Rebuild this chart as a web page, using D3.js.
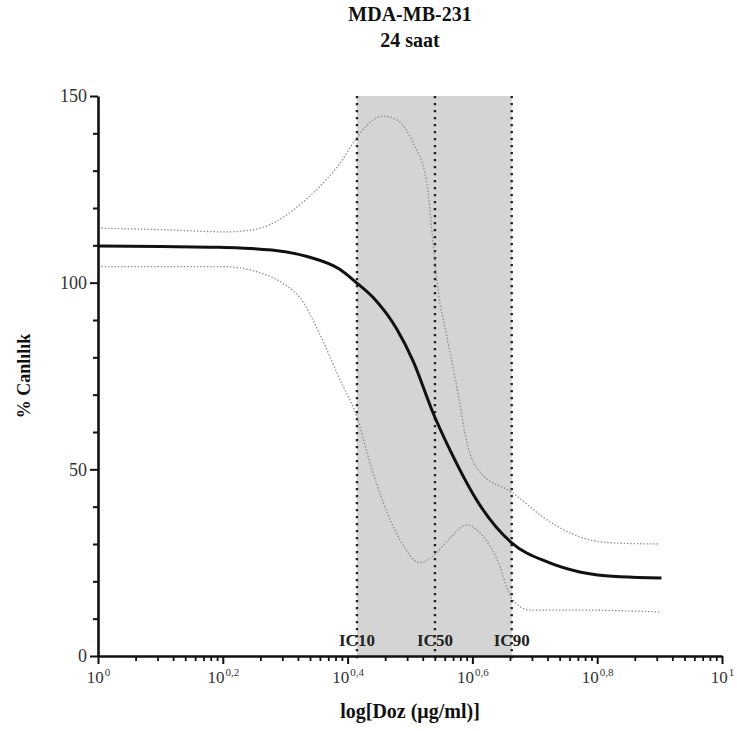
<!DOCTYPE html>
<html>
<head>
<meta charset="utf-8">
<script src="https://cdn.jsdelivr.net/npm/d3@7"></script>
<style>
  html, body { margin: 0; padding: 0; background: #fff; }
  svg { display: block; }
  text { font-family: "Liberation Serif", "Times New Roman", serif; }
</style>
</head>
<body>
<svg id="chart" width="737" height="731"></svg>
<script>
// ---------------- DATA ----------------
const titleLines = ["MDA-MB-231", "24 saat"];
const xAxisTitle = "log[Doz (\u03BCg/ml)]";
const yAxisTitle = "% Canlılık";

// major x ticks: exponents of 10
const xTickExponents = [0, 0.2, 0.4, 0.6, 0.8, 1];
const yTicks = [0, 50, 100, 150];
const yMinorTicks = [10, 20, 30, 40, 60, 70, 80, 90, 110, 120, 130, 140];

// IC markers: log10(dose)
const icLabels = ["IC10", "IC50", "IC90"];
const icLogDose = [0.415, 0.540, 0.663];

// fitted curve: log10(dose) and % viability
const fitLogDose = [0.00, 0.10, 0.18, 0.228, 0.30, 0.335, 0.388, 0.412, 0.441, 0.479, 0.505, 0.537, 0.564, 0.612, 0.663, 0.72, 0.772, 0.837, 0.903];
const fitValues  = [109.8, 109.7, 109.5, 109.3, 108.3, 107.0, 103.5, 100.3, 96.0, 87.5, 79.0, 65.1, 55.2, 40.4, 30.3, 25.2, 22.5, 21.2, 20.9];

// upper confidence band
const upperLogDose = [0.00, 0.10, 0.21, 0.23, 0.26, 0.29, 0.32, 0.355, 0.388, 0.412, 0.42, 0.441, 0.457, 0.479, 0.505, 0.527, 0.537, 0.545, 0.558, 0.574, 0.593, 0.612, 0.663, 0.72, 0.772, 0.825, 0.90];
const upperValues  = [114.6, 114.2, 113.6, 113.8, 114.6, 116.8, 120.4, 125.7, 132.0, 138.2, 140.0, 143.6, 144.6, 143.6, 137.4, 126.7, 110.6, 98.0, 86.5, 73.0, 56.0, 49.3, 43.9, 36.4, 31.9, 30.3, 30.0];

// lower confidence band
const lowerLogDose = [0.00, 0.20, 0.255, 0.30, 0.324, 0.356, 0.388, 0.415, 0.436, 0.457, 0.484, 0.516, 0.537, 0.564, 0.591, 0.607, 0.64, 0.663, 0.692, 0.77, 0.90];
const lowerValues  = [104.3, 104.3, 102.9, 99.4, 95.9, 86.0, 73.9, 64.1, 51.6, 41.2, 31.1, 25.0, 26.8, 31.6, 35.1, 33.8, 25.7, 15.5, 12.3, 12.3, 11.8];

// ---------------- CHART ----------------
const svg = d3.select("#chart");

const x = d3.scaleLog().domain([1, 10]).range([98, 722]);
const y = d3.scaleLinear().domain([0, 150]).range([656, 96]);
const toDose = e => Math.pow(10, e);

const FONT = '"Liberation Serif", "Times New Roman", serif';

// shaded IC10-IC90 region
svg.append("rect")
  .attr("x", x(toDose(icLogDose[0])))
  .attr("y", y(150))
  .attr("width", x(toDose(icLogDose[2])) - x(toDose(icLogDose[0])))
  .attr("height", y(0) - y(150))
  .attr("fill", "#d4d4d4");

// IC dotted vertical lines
svg.append("g").selectAll("line")
  .data(icLogDose)
  .join("line")
  .attr("x1", d => x(toDose(d)))
  .attr("x2", d => x(toDose(d)))
  .attr("y1", y(150))
  .attr("y2", y(0) + 7)
  .attr("stroke", "#222")
  .attr("stroke-width", 2.4)
  .attr("stroke-dasharray", "2.2,4.8");

// IC labels
svg.append("g").selectAll("text")
  .data(icLabels)
  .join("text")
  .attr("x", (d, i) => x(toDose(icLogDose[i])))
  .attr("y", 646)
  .attr("text-anchor", "middle")
  .attr("font-size", 17)
  .attr("font-weight", "bold")
  .attr("fill", "#222")
  .text(d => d);

// line generators
const mkLine = (xs) => d3.line()
  .x((d, i) => x(toDose(xs[i])))
  .y(d => y(d))
  .curve(d3.curveMonotoneX);

// confidence bands
svg.append("path")
  .datum(upperValues)
  .attr("d", mkLine(upperLogDose))
  .attr("fill", "none")
  .attr("stroke", "#8a8a8a")
  .attr("stroke-width", 1.3)
  .attr("stroke-dasharray", "1.4,1.9");

svg.append("path")
  .datum(lowerValues)
  .attr("d", mkLine(lowerLogDose))
  .attr("fill", "none")
  .attr("stroke", "#8a8a8a")
  .attr("stroke-width", 1.3)
  .attr("stroke-dasharray", "1.4,1.9");

// fitted curve
svg.append("path")
  .datum(fitValues)
  .attr("d", mkLine(fitLogDose))
  .attr("fill", "none")
  .attr("stroke", "#111")
  .attr("stroke-width", 3);

// ---------- Y axis ----------
const yAxisG = svg.append("g")
  .attr("transform", `translate(${x(1)},0)`)
  .call(d3.axisLeft(y).tickValues(yTicks).tickSize(8).tickSizeOuter(0).tickPadding(3));
yAxisG.select(".domain").attr("stroke", "#111").attr("stroke-width", 2.6);
yAxisG.selectAll(".tick line").attr("stroke", "#111").attr("stroke-width", 2);
yAxisG.selectAll(".tick text")
  .attr("font-family", FONT).attr("font-size", 18).attr("fill", "#333");

const yMinorG = svg.append("g")
  .attr("transform", `translate(${x(1)},0)`)
  .call(d3.axisLeft(y).tickValues(yMinorTicks).tickSize(5).tickFormat(""));
yMinorG.select(".domain").remove();
yMinorG.selectAll(".tick line").attr("stroke", "#111").attr("stroke-width", 2);

// ---------- X axis ----------
const xMajorVals = xTickExponents.map(toDose);
const xMinorVals = [];
for (let i = 0; i < xTickExponents.length - 1; i++) {
  const a = xTickExponents[i], b = xTickExponents[i + 1];
  for (let k = 2; k <= 9; k++) xMinorVals.push(toDose(a + (b - a) * Math.log10(k)));
}

const xAxisG = svg.append("g")
  .attr("transform", `translate(0,${y(0)})`)
  .call(d3.axisBottom(x).tickValues(xMajorVals).tickSize(8).tickSizeOuter(0).tickFormat(""));
xAxisG.select(".domain").attr("stroke", "#111").attr("stroke-width", 2.6);
xAxisG.selectAll(".tick line").attr("stroke", "#111").attr("stroke-width", 2);

const xMinorG = svg.append("g")
  .attr("transform", `translate(0,${y(0)})`)
  .call(d3.axisBottom(x).tickValues(xMinorVals).tickSize(5).tickFormat(""));
xMinorG.select(".domain").remove();
xMinorG.selectAll(".tick line").attr("stroke", "#111").attr("stroke-width", 1.8);

// superscript tick labels
xAxisG.selectAll(".tick").each(function (d, i) {
  const t = d3.select(this).select("text");
  t.attr("dy", null)
    .attr("y", 27)
    .attr("font-family", FONT)
    .attr("fill", "#333")
    .attr("text-anchor", "middle");
  t.text(null);
  t.append("tspan").attr("font-size", 17).text("10");
  t.append("tspan").attr("font-size", 11).attr("dy", -7).attr("dx", 1)
    .text(String(xTickExponents[i]).replace(".", ","));
});

// ---------- Titles ----------
svg.append("g").selectAll("text")
  .data(titleLines)
  .join("text")
  .attr("x", 410)
  .attr("y", (d, i) => 21 + i * 26)
  .attr("text-anchor", "middle")
  .attr("font-size", 20)
  .attr("font-weight", "bold")
  .attr("fill", "#111")
  .text(d => d);

svg.append("text")
  .attr("x", 410)
  .attr("y", 718)
  .attr("text-anchor", "middle")
  .attr("font-size", 20)
  .attr("font-weight", "bold")
  .attr("fill", "#111")
  .text(xAxisTitle);

svg.append("text")
  .attr("transform", `translate(30,${(y(0) + y(150)) / 2}) rotate(-90)`)
  .attr("text-anchor", "middle")
  .attr("font-size", 18)
  .attr("font-weight", "bold")
  .attr("fill", "#111")
  .text(yAxisTitle);
</script>
</body>
</html>
